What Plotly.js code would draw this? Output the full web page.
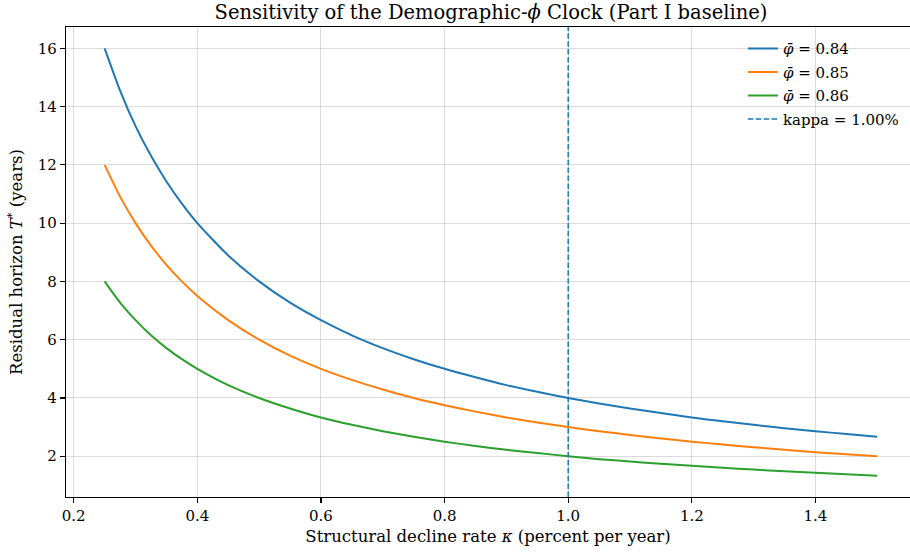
<!DOCTYPE html>
<html>
<head>
<meta charset="utf-8">
<script src="https://cdn.plot.ly/plotly-3.0.1.min.js"></script>
<style>html,body{margin:0;padding:0;background:#fff;overflow:hidden;}#chart{width:910px;height:553px;}</style>
</head>
<body>
<div id="chart"></div>
<script>
// Structural decline rate kappa (percent per year)
const kappa = [0.25, 0.275, 0.30, 0.325, 0.35, 0.375, 0.40, 0.45, 0.50, 0.55, 0.60, 0.65, 0.70, 0.75, 0.80, 0.85, 0.90, 0.95, 1.00, 1.05, 1.10, 1.15, 1.20, 1.25, 1.30, 1.35, 1.40, 1.45, 1.50];
// Residual horizon T* (years)
const phi084 = [16.0, 14.55, 13.33, 12.31, 11.43, 10.67, 10.0, 8.89, 8.0, 7.27, 6.67, 6.15, 5.71, 5.33, 5.0, 4.71, 4.44, 4.21, 4.0, 3.81, 3.64, 3.48, 3.33, 3.2, 3.08, 2.96, 2.86, 2.76, 2.67];
const phi085 = [12.0, 10.91, 10.0, 9.23, 8.57, 8.0, 7.5, 6.67, 6.0, 5.45, 5.0, 4.62, 4.29, 4.0, 3.75, 3.53, 3.33, 3.16, 3.0, 2.86, 2.73, 2.61, 2.5, 2.4, 2.31, 2.22, 2.14, 2.07, 2.0];
const phi086 = [8.0, 7.27, 6.67, 6.15, 5.71, 5.33, 5.0, 4.44, 4.0, 3.64, 3.33, 3.08, 2.86, 2.67, 2.5, 2.35, 2.22, 2.11, 2.0, 1.90, 1.82, 1.74, 1.67, 1.6, 1.54, 1.48, 1.43, 1.38, 1.33];
const seriesNames = ['<i>φ̄</i> = 0.84', '<i>φ̄</i> = 0.85', '<i>φ̄</i> = 0.86'];
const kappaRef = 1.0;
const refName = 'kappa = 1.00%';
const xTicks = [0.2, 0.4, 0.6, 0.8, 1.0, 1.2, 1.4];
const xTickLabels = ['0.2', '0.4', '0.6', '0.8', '1.0', '1.2', '1.4'];
const yTicks = [2, 4, 6, 8, 10, 12, 14, 16];

const xRange = [0.1875, 1.553];
const yRange = [0.6, 16.733];
const colors = ['#1f77b4', '#ff7f0e', '#2ca02c'];
const font = 'DejaVu Serif, Liberation Serif, serif';

const traces = [phi084, phi085, phi086].map((ys, i) => ({
  x: kappa, y: ys, type: 'scatter', mode: 'lines', name: seriesNames[i], legendgroup: 'g' + i,
  line: {color: colors[i], width: 2, shape: 'spline', smoothing: 0.6}
}));
traces.push({
  x: [kappaRef, kappaRef], y: yRange, type: 'scatter', mode: 'lines', name: refName, legendgroup: 'g3',
  line: {color: '#1f77b4', width: 1.5, dash: '5.5px,2.4px'}
});

const layout = {
  width: 910, height: 553,
  margin: {l: 66, r: 0, t: 27, b: 56},
  paper_bgcolor: '#fff', plot_bgcolor: '#fff',
  font: {family: font, color: '#000', size: 15},
  title: {
    text: 'Sensitivity of the Demographic-<i>ϕ</i> Clock (Part I baseline)',
    font: {family: font, size: 19.5, color: '#000'},
    xref: 'container', x: 491 / 910, xanchor: 'center',
    yref: 'container', y: 1 - 12 / 553, yanchor: 'middle'
  },
  xaxis: {
    range: xRange, tickvals: xTicks, ticktext: xTickLabels,
    showline: true, mirror: true, linecolor: '#000', linewidth: 1.1,
    ticks: 'outside', ticklen: 5, tickwidth: 1.1, tickcolor: '#000',
    showgrid: true, gridcolor: 'rgba(176,176,176,0.45)', gridwidth: 1,
    zeroline: false, tickfont: {family: font, size: 15, color: '#000'},
    title: {text: 'Structural decline rate <i>κ</i> (percent per year)', font: {family: font, size: 16.5, color: '#000'}, standoff: 6}
  },
  yaxis: {
    range: yRange, tickvals: yTicks,
    showline: true, mirror: false, linecolor: '#000', linewidth: 1.1,
    ticks: 'outside', ticklen: 5, tickwidth: 1.1, tickcolor: '#000',
    showgrid: true, gridcolor: 'rgba(176,176,176,0.45)', gridwidth: 1,
    zeroline: false, tickfont: {family: font, size: 15, color: '#000'},
    title: {text: 'Residual horizon <i>T</i><sup>*</sup> (years)', font: {family: font, size: 16.5, color: '#000'}, standoff: 11}
  },
  showlegend: true,
  legend: {
    x: 0.802, y: 0.989, xanchor: 'left', yanchor: 'top',
    bgcolor: 'rgba(255,255,255,0)', borderwidth: 0,
    font: {family: font, size: 15, color: '#000'},
    tracegroupgap: 1, itemwidth: 30
  }
};

Plotly.newPlot('chart', traces, layout, {displayModeBar: false, staticPlot: true});
</script>
</body>
</html>
